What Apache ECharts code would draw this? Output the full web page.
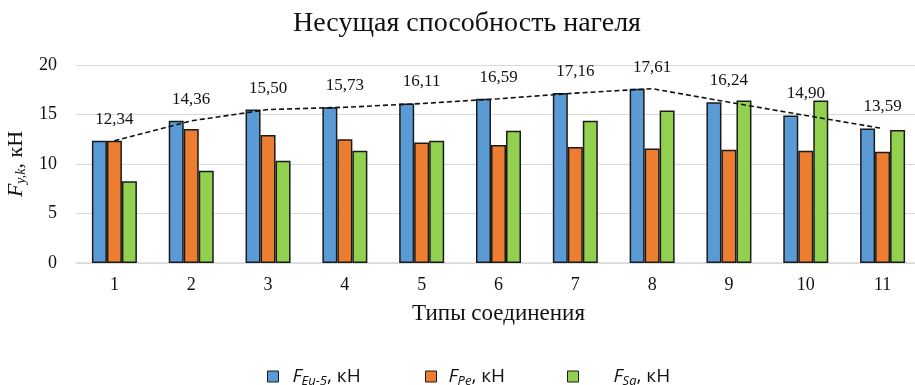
<!DOCTYPE html>
<html>
<head>
<meta charset="utf-8">
<script src="https://cdn.jsdelivr.net/npm/echarts@6/dist/echarts.min.js"></script>
<style>
  html, body { margin: 0; padding: 0; background: #fff; }
  #chart { width: 915px; height: 385px; }
</style>
</head>
<body>
<div id="chart"></div>
<script>
// Joint types (x categories)
const categories = ['1', '2', '3', '4', '5', '6', '7', '8', '9', '10', '11'];
// Load-bearing capacity per joint type, kN
const fEu5 = [12.34, 14.36, 15.50, 15.73, 16.11, 16.59, 17.16, 17.61, 16.24, 14.90, 13.59];
const fPe  = [12.34, 13.53, 12.93, 12.49, 12.18, 11.91, 11.71, 11.57, 11.44, 11.34, 11.24];
const fSa  = [8.26, 9.31, 10.32, 11.34, 12.35, 13.37, 14.38, 15.40, 16.41, 16.41, 13.43];
// Legend entries: [italic letter, subscript, units]
const seriesNames = [['F', 'Eu-5', ', кН'], ['F', 'Pe', ', кН'], ['F', 'Sa', ', кН']];
const yTicks = { min: 0, max: 20, interval: 5 };

const serif = '"Liberation Serif", "Times New Roman", serif';
const sans = '"Open Sans", "Liberation Sans", sans-serif';
const colors = ['#5b9bd5', '#ed7d31', '#92d050'];

const names = seriesNames.map(p => p.join(''));

function barSeries(i, data) {
  return {
    name: names[i],
    type: 'bar',
    data: data,
    barWidth: 15,
    barGap: '0%',
    itemStyle: { color: colors[i], borderColor: '#1b1b1b', borderWidth: 1.5 },
    z: 2
  };
}

// One legend block per series so each entry sits at its own offset
const legendLefts = [262, 420, 562];
const legendPads = [9, 7, 30];
const legends = seriesNames.map((p, i) => ({
  data: [names[i]],
  left: legendLefts[i], top: 362,
  itemWidth: 11, itemHeight: 11,
  icon: 'rect',
  itemStyle: { borderColor: '#1b1b1b', borderWidth: 1 },
  formatter: () => '{f|' + p[0] + '}{s|' + p[1] + '}{u|' + p[2] + '}',
  textStyle: {
    fontFamily: sans, color: '#111', padding: [0, 0, 0, legendPads[i]],
    rich: {
      f: { fontFamily: sans, fontSize: 19, fontStyle: 'italic', color: '#111', lineHeight: 22 },
      s: { fontFamily: sans, fontSize: 13, fontStyle: 'italic', color: '#111', verticalAlign: 'bottom', lineHeight: 13 },
      u: { fontFamily: sans, fontSize: 19, color: '#111', lineHeight: 22 }
    }
  }
}));

const chart = echarts.init(document.getElementById('chart'), null, { renderer: 'canvas' });
chart.setOption({
  animation: false,
  title: {
    text: 'Несущая способность нагеля',
    left: 462, top: 5, textAlign: 'center',
    textStyle: { fontFamily: serif, fontSize: 28, fontWeight: 'normal', color: '#111' }
  },
  legend: legends,
  grid: { left: 76, top: 65, width: 845, bottom: 122, outerBoundsMode: 'none' },
  xAxis: {
    type: 'category',
    data: categories,
    name: 'Типы соединения',
    nameLocation: 'middle',
    nameGap: 39,
    nameTextStyle: { fontFamily: serif, fontSize: 23, color: '#111' },
    axisLine: { lineStyle: { color: '#d9d9d9', width: 1.5 } },
    axisTick: { show: false },
    axisLabel: { fontFamily: serif, fontSize: 18, color: '#111', margin: 13 }
  },
  yAxis: {
    type: 'value',
    min: yTicks.min, max: yTicks.max, interval: yTicks.interval,
    name: '{f|F}{s|y,k}{u|, кН}',
    nameLocation: 'middle',
    nameGap: 48,
    nameRotate: 90,
    nameTextStyle: {
      rich: {
        f: { fontFamily: serif, fontSize: 22, fontStyle: 'italic', color: '#111', lineHeight: 24 },
        s: { fontFamily: serif, fontSize: 14, fontStyle: 'italic', color: '#111', verticalAlign: 'bottom', lineHeight: 14 },
        u: { fontFamily: serif, fontSize: 22, color: '#111', lineHeight: 24 }
      }
    },
    axisLine: { show: false },
    axisTick: { show: false },
    splitLine: { lineStyle: { color: '#d9d9d9', width: 1.2 } },
    axisLabel: { fontFamily: serif, fontSize: 18, color: '#111', margin: 19 }
  },
  series: [
    barSeries(0, fEu5),
    barSeries(1, fPe),
    barSeries(2, fSa),
    {
      name: 'trend',
      type: 'line',
      data: fEu5,
      showSymbol: true,
      symbol: 'circle',
      symbolSize: 0,
      itemStyle: { color: '#111' },
      lineStyle: { color: '#111', width: 1.6, type: [5, 3] },
      label: {
        show: true,
        position: 'top',
        distance: 13,
        fontFamily: serif, fontSize: 17, color: '#111',
        formatter: p => p.value.toFixed(2).replace('.', ',')
      },
      z: 5
    }
  ]
});
</script>
</body>
</html>
